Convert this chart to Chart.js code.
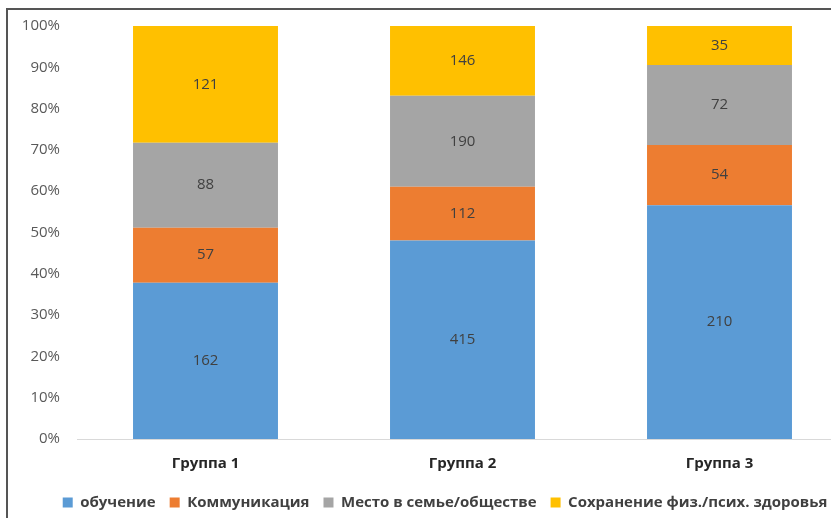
<!DOCTYPE html>
<html>
<head>
<meta charset="utf-8">
<script src="https://cdn.jsdelivr.net/npm/chart.js@4/dist/chart.umd.min.js"></script>
<style>
  html, body { margin: 0; padding: 0; background: #fff; overflow: hidden; }
  #frame { position: absolute; left: 6px; top: 8px; width: 840px; height: 520px;
           border-left: 2px solid #555; border-top: 2px solid #555; }
  #chart { position: absolute; left: 8px; top: 0px; }
</style>
</head>
<body>
<div id="frame"></div>
<canvas id="chart" width="874" height="520"></canvas>
<script>
const groups = ['Группа 1', 'Группа 2', 'Группа 3'];
const seriesNames = ['обучение', 'Коммуникация', 'Место в семье/обществе', 'Сохранение физ./псих. здоровья'];
const obuchenie = [162, 415, 210];
const kommunikacia = [57, 112, 54];
const mesto = [88, 190, 72];
const zdorovie = [121, 146, 35];
const yTicks = [0, 10, 20, 30, 40, 50, 60, 70, 80, 90, 100];
const colors = ['#5B9BD5', '#ED7D31', '#A5A5A5', '#FFC000'];

const counts = [obuchenie, kommunikacia, mesto, zdorovie];
const totals = groups.map((g, i) => counts.reduce((s, arr) => s + arr[i], 0));

const datasets = counts.map((arr, k) => ({
  label: seriesNames[k],
  data: arr.map((v, i) => v / totals[i] * 100),
  raw: arr,
  backgroundColor: colors[k],
  borderWidth: 0,
  categoryPercentage: 1,
  barPercentage: 0.564
}));

// count labels in the middle of every segment
const valueLabels = {
  id: 'valueLabels',
  afterDatasetsDraw(chart) {
    const ctx = chart.ctx;
    ctx.save();
    ctx.font = '15px "Open Sans"';
    ctx.fillStyle = '#404040';
    ctx.textAlign = 'center';
    ctx.textBaseline = 'middle';
    chart.data.datasets.forEach((ds, k) => {
      chart.getDatasetMeta(k).data.forEach((bar, i) => {
        ctx.fillText(ds.raw[i], bar.x, (bar.y + bar.base) / 2);
      });
    });
    ctx.restore();
  }
};

// center the legend on the whole canvas, not only on the padded area
const legendWide = {
  id: 'legendWide',
  afterLayout(chart) { chart.legend.right = chart.width; }
};

new Chart(document.getElementById('chart'), {
  type: 'bar',
  data: { labels: groups, datasets: datasets },
  plugins: [valueLabels, legendWide],
  options: {
    responsive: false,
    animation: false,
    layout: { padding: { left: 0, right: 34, top: 7, bottom: 0 } },
    plugins: {
      tooltip: { enabled: false },
      legend: {
        position: 'bottom',
        labels: {
          boxWidth: 10, boxHeight: 10, padding: 14,
          color: '#404040',
          font: { family: '"Open Sans"', size: 15, weight: 'bold' }
        }
      }
    },
    scales: {
      x: {
        stacked: true,
        afterFit(scale) { scale.height = 42; },
        grid: { display: false, drawTicks: false },
        border: { display: true, color: '#d9d9d9', width: 1 },
        ticks: { padding: 16, color: '#262626', font: { family: '"Open Sans"', size: 15, weight: 'bold' } }
      },
      y: {
        stacked: true,
        min: 0, max: 100,
        afterFit(scale) { scale.width = 69; },
        afterBuildTicks(scale) { scale.ticks = yTicks.map(v => ({ value: v })); },
        grid: { display: false, drawTicks: false },
        border: { display: false },
        ticks: {
          padding: 17, color: '#595959',
          font: { family: '"Open Sans"', size: 15 },
          callback: v => v + '%'
        }
      }
    }
  }
});
</script>
</body>
</html>
